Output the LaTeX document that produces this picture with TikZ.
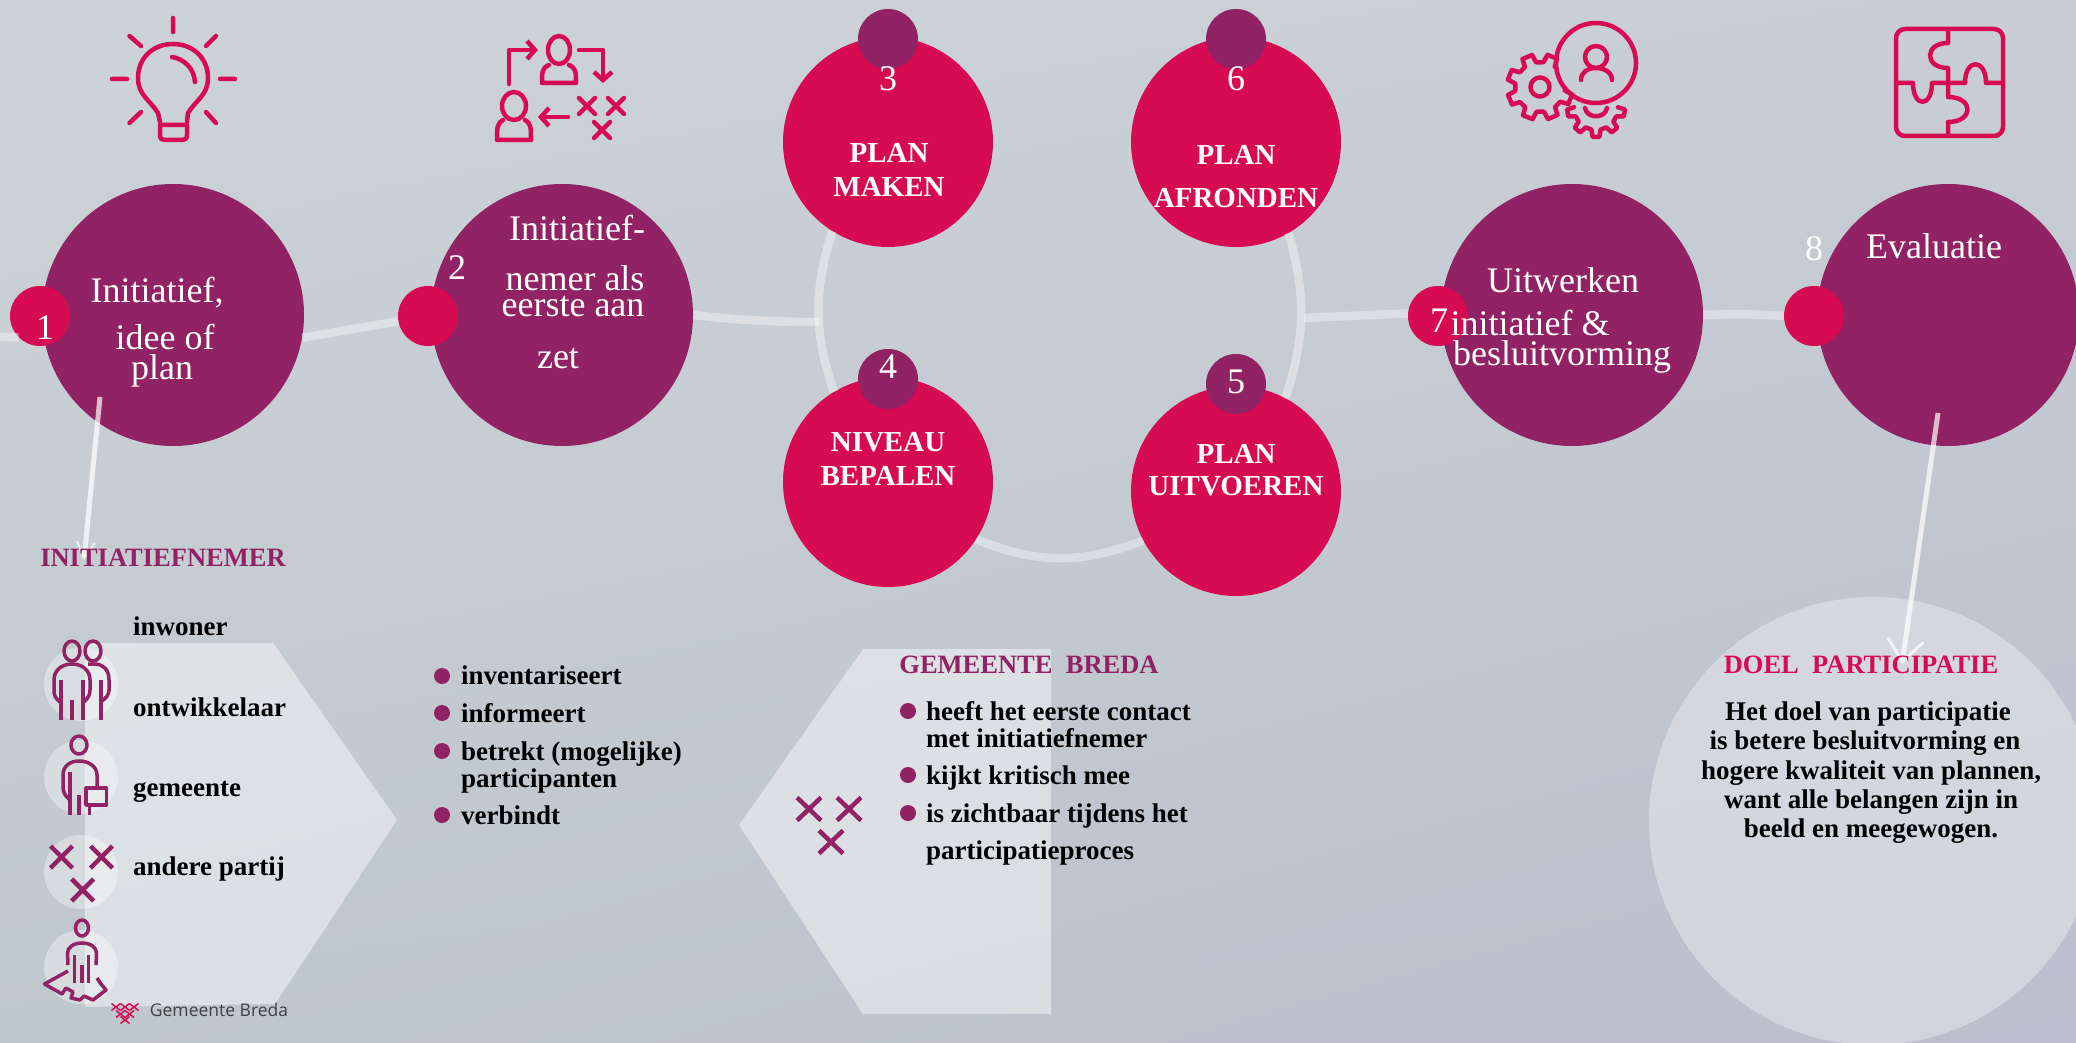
\documentclass[tikz,border=0pt]{standalone}
\usepackage{fontspec}
\setmainfont{Liberation Serif}
\newfontfamily\logofont{Open Sans}
\usetikzlibrary{arrows.meta,shadings}
\definecolor{paars}{HTML}{912263}
\definecolor{roze}{HTML}{D60B52}
\definecolor{bgA}{HTML}{CDD4D7}
\definecolor{bgB}{HTML}{C8CED4}
\definecolor{bgC}{HTML}{BFC7CE}
\definecolor{bgD}{HTML}{B9BFCC}
\begin{document}
\begin{tikzpicture}[
            x=1pt,y=-1pt,
            groot/.style={
                    circle,
                    fill=paars,
                    inner sep=0pt,
                    minimum size=262pt
                },
            fase/.style={
                    circle,
                    fill=roze,
                    inner sep=0pt,
                    minimum size=210pt
                },
            stipr/.style={
                    circle,
                    fill=roze,
                    inner sep=0pt,
                    minimum size=60pt
                },
            stipp/.style={
                    circle,
                    fill=paars,
                    inner sep=0pt,
                    minimum size=60pt
                },
            bol/.style={
                    circle,
                    fill=paars,
                    inner sep=0pt,
                    minimum size=16pt
                },
            licht/.style={
                    circle,
                    fill=white,
                    fill opacity=.35,
                    inner sep=0pt,
                    minimum size=74pt
                },
            track/.style={
                    draw=white,
                    draw opacity=.38,
                    line width=8.5pt
                },
            pijl/.style={
                    draw=white,
                    draw opacity=.7,
                    line width=5pt
                },
            wit/.style={
                    text=white,
                    inner sep=0pt,
                    text height=31pt,
                    text depth=6pt,
                    font=\fontsize{36}{38}\selectfont
                },
            kop/.style={
                    text=white,
                    inner sep=0pt,
                    text height=28pt,
                    text depth=5pt,
                    font=\fontsize{29}{30}\selectfont\bfseries
                },
            titel/.style={
                    inner sep=0pt,
                    text height=22pt,
                    text depth=4pt,
                    font=\fontsize{26.5}{28}\selectfont\bfseries
                },
            lijst/.style={
                    anchor=west,
                    inner sep=0pt,
                    text height=22pt,
                    text depth=4pt,
                    font=\fontsize{27}{28}\selectfont\bfseries
                },
            pict/.style={
                    draw=roze,
                    line width=4.5pt,
                    line cap=round,
                    line join=round
                },
            picp/.style={
                    draw=paars,
                    line width=3.5pt,
                    line join=round
                }
        ]
        \useasboundingbox (0,0) rectangle (2076,1043);
        \shade[shading=bilinear interpolation,upper left=bgA,upper right=bgB,lower left=bgC,lower right=bgD] (0,0) rectangle (2076,1043);

        \fill[white,fill opacity=.45] (85,643) -- (273,643) -- (397,820) -- (275,1004) -- (85,1007) -- cycle;
        \fill[white,fill opacity=.45] (863,649) -- (1051,649) -- (1051,1014) -- (863,1014) -- (739,825) -- cycle;
        \fill[white,fill opacity=.33] (1873,821) circle[radius=224];

        \foreach \i/\y in {1/684,2/777,3/872,4/967}
        \node[licht] (l\i) at (81,\y) {};

        \node[groot] (c1) at (173,315) {};
        \node[groot] (c2) at (562,315) {};
        \node[groot] (c7) at (1572,315) {};
        \node[groot] (c8) at (1948,315) {};
        \node[fase] (c3) at (888,142) {};
        \node[fase] (c6) at (1236,142) {};
        \node[fase] (c4) at (888,482) {};
        \node[fase] (c5) at (1236,491) {};

        \node[stipr] (d1) at (40,316) {};
        \node[stipr] (d2) at (428,316) {};
        \node[stipr] (d7) at (1438,316) {};
        \node[stipr] (d8) at (1814,316) {};
        \node[stipp] (d3) at (888,39) {};
        \node[stipp] (d6) at (1236,39) {};
        \node[stipp] (d4) at (888,379) {};
        \node[stipp] (d5) at (1236,384) {};

        \coordinate (start) at (0,337);
        \coordinate (ringw) at (819,322);
        \coordinate (ringo) at (1304,318);
        \draw[track] (start) -- (d1.225);
        \draw[track] (c1.-10) -- (d2.190);
        \draw[track] (c2.east) to[bend right=3] (ringw);
        \draw[track] (ringo) -- (d7.175);
        \draw[track] (c7.east) to[bend left=3] (d8.west);
        \draw[track] (c3.238) to[bend right=18] (c4.121);
        \draw[track] (c4.-33) to[bend right=22] (c5.208);
        \draw[track] (c6.-60) to[bend left=17] (c5.62);

        \coordinate (a1) at (100,397);
        \coordinate (a2) at (84,560);
        \coordinate (a3) at (1938,413);
        \coordinate (a4) at (1902,664);
        \draw[pijl,-{Straight Barb[length=16pt,width=18pt,line width=2pt]}] (a1) -- (a2);
        \draw[pijl,-{Straight Barb[length=22pt,width=36pt,line width=3pt]}] (a3) -- (a4);

        \node[wit] (n1) at (45,327) {1};
        \node[wit] (n2) at (457,267) {2};
        \node[wit] (n3) at (888,78) {3};
        \node[wit] (n4) at (888,366) {4};
        \node[wit] (n5) at (1236,381) {5};
        \node[wit] (n6) at (1236,78) {6};
        \node[wit] (n7) at (1439,320) {7};
        \node[wit] (n8) at (1814,248) {8};

        \node[wit] (t1a) at (157,290) {Initiatief,};
        \node[wit] (t1b) at (165,337) {idee of};
        \node[wit] (t1c) at (162,367) {plan};
        \node[wit] (t2a) at (577,228) {Initiatief-};
        \node[wit] (t2b) at (575,278) {nemer als};
        \node[wit] (t2c) at (573,304) {eerste aan};
        \node[wit] (t2d) at (558,356) {zet};
        \node[wit] (t7a) at (1563,280) {Uitwerken};
        \node[wit] (t7b) at (1530,323) {initiatief \&};
        \node[wit] (t7c) at (1562,353) {besluitvorming};
        \node[wit] (t8) at (1934,246) {Evaluatie};

        \node[kop] (t3a) at (889,151) {PLAN};
        \node[kop] (t3b) at (889,185) {MAKEN};
        \node[kop] (t6a) at (1236,153) {PLAN};
        \node[kop] (t6b) at (1236,196) {AFRONDEN};
        \node[kop] (t4a) at (888,440) {NIVEAU};
        \node[kop] (t4b) at (888,474) {BEPALEN};
        \node[kop] (t5a) at (1236,452) {PLAN};
        \node[kop] (t5b) at (1236,484) {UITVOEREN};

        \node[titel,text=paars] (k1) at (163,557) {INITIATIEFNEMER};
        \node[titel,text=paars] (k2) at (1029,664) {GEMEENTE\ \ BREDA};
        \node[titel,text=roze] (k3) at (1861,664) {DOEL\ \ PARTICIPATIE};

        \foreach \i/\y/\t in {1/626/inwoner,2/707/ontwikkelaar,3/787/gemeente,4/866/andere partij}
        \node[lijst] (s\i) at (133,\y) {\t};

        \foreach \i/\y/\t in {1/675/inventariseert,2/713/informeert,3/751/betrekt (mogelijke),4/778/participanten,5/815/verbindt}
        \node[lijst] (i\i) at (461,\y) {\t};
        \foreach \i/\y in {1/676,2/713,3/751,5/815}
        \node[bol] (p\i) at (442,\y) {};

        \foreach \i/\y/\t in {1/711/heeft het eerste contact,2/738/met initiatiefnemer,3/775/kijkt kritisch mee,4/813/is zichtbaar tijdens het,5/850/participatieproces}
        \node[lijst] (g\i) at (926,\y) {\t};
        \foreach \i/\y in {1/711,3/775,4/813}
        \node[bol] (q\i) at (908,\y) {};

        \foreach \i/\x/\y/\t in {1/1868/711/Het doel van participatie,2/1865/740/is betere besluitvorming en,3/1871/770/{hogere kwaliteit van plannen,},4/1871/799/want alle belangen zijn in,5/1871/828/beeld en meegewogen.}
        \node[lijst,anchor=center] (b\i) at (\x,\y) {\t};

        \node[inner sep=0pt,text=black!75,font=\logofont\fontsize{17.5}{19}\selectfont] (logo) at (219,1010) {Gemeente Breda};
        \foreach \x/\y in {116/1007,125/1007,134/1007,120.5/1014,129.5/1014,125/1020}
        \draw[roze,line width=1.5pt] (\x-4.5,\y-3.5) -- (\x+4.5,\y+3.5) (\x-4.5,\y+3.5) -- (\x+4.5,\y-3.5);

        \draw[pict] (173,18) -- (173,32) (112,79) -- (127,79) (220,79) -- (235,79)
        (129.5,36) -- (141,46) (216,36) -- (206,46) (129.5,123) -- (141,112) (216,123) -- (206,112);
        \draw[pict] (160,122) -- (158,113) .. controls (150,100) and (138,95) .. (138,78)
        .. controls (138,58) and (153,44) .. (173,44) .. controls (193,44) and (208,58) .. (208,78)
        .. controls (208,95) and (196,100) .. (188,113) -- (187,122);
        \draw[pict] (160,125) -- (187,125) -- (187,135) .. controls (187,139) and (185,140) .. (182,140)
        -- (165,140) .. controls (162,140) and (160,139) .. (160,135) -- cycle;
        \draw[pict] (172,57) .. controls (184,59) and (194,68) .. (195,82);

        \draw[pict] (559,50) ellipse[x radius=11,y radius=14];
        \draw[pict] (549,65) .. controls (542,68) and (542,72) .. (542,83) -- (576,83) .. controls (576,72) and (576,68) .. (569,65);
        \draw[pict] (514,106) ellipse[x radius=12,y radius=14];
        \draw[pict] (503,120) .. controls (497,123) and (497,128) .. (497,140) -- (531,140) .. controls (531,128) and (531,123) .. (525,120);
        \draw[pict,-{Straight Barb[length=8pt,width=18pt]}] (509,84) -- (509,50) -- (538,50);
        \draw[pict,-{Straight Barb[length=8pt,width=18pt]}] (579,50) -- (603,50) -- (603,83);
        \draw[pict,-{Straight Barb[length=8pt,width=18pt]}] (568,117) -- (538,117);
        \foreach \x/\y in {587/106,616/106,602/130}
        \draw[pict] (\x-8,\y-8) -- (\x+8,\y+8) (\x-8,\y+8) -- (\x+8,\y-8);

        \draw[pict] (1596,63) circle[radius=40];
        \draw[pict] (1596,57) circle[radius=11];
        \draw[pict] (1581,80) .. controls (1581,72) and (1588,68) .. (1596,68) .. controls (1604,68) and (1612,72) .. (1612,80);
        \begin{scope}[shift={(1540,87)}]
            \draw[pict] (22-14:25) \foreach \a in {22,67,112,157,202,247,292}{
                -- (\a-14:25) -- (\a-9:33) -- (\a+9:33) -- (\a+14:25)};
            \draw[pict] (0,0) circle[radius=9.5];
        \end{scope}
        \begin{scope}[shift={(1596,108)}]
            \draw[pict] (10-12:22) \foreach \a in {10,50,90,130,170}{
                -- (\a-12:22) -- (\a-7:29) -- (\a+7:29) -- (\a+12:22)};
            \draw[pict] (-11,0) .. controls (-9,11) and (9,11) .. (11,0);
        \end{scope}

        \draw[pict,rounded corners=9pt] (1896,29) rectangle (2003,136);
        \draw[pict] (1948,29) -- (1948,43) .. controls (1924,43) and (1924,68) .. (1948,68) -- (1948,97)
        .. controls (1974,97) and (1974,122) .. (1948,122) -- (1948,136);
        \draw[pict] (1896,83) -- (1913,83) .. controls (1913,108) and (1932,108) .. (1932,83) -- (1965,83)
        .. controls (1965,58) and (1986,58) .. (1986,83) -- (2003,83);

        \draw[picp] (72,651) ellipse[x radius=8,y radius=10] (93,651) ellipse[x radius=8,y radius=10];
        \draw[picp] (60,702) .. controls (55,698) and (54,695) .. (54,690) -- (54,680)
        .. controls (54,670) and (62,664) .. (72,664) .. controls (82,664) and (90,670) .. (90,680) -- (90,690)
        .. controls (90,695) and (88,698) .. (84,702);
        \draw[picp] (88,664) -- (96,664) .. controls (104,665) and (109,670) .. (109,680) -- (109,690)
        .. controls (109,695) and (106,698) .. (102,701);
        \draw[picp] (61,680) -- (61,720) (72,700) -- (72,720) (83,680) -- (83,720) (101,680) -- (101,720);

        \draw[picp] (79,745) ellipse[x radius=8,y radius=9];
        \draw[picp] (70,800) .. controls (65,796) and (63,792) .. (63,787) -- (63,775)
        .. controls (63,766) and (70,761) .. (79,761) .. controls (88,761) and (97,766) .. (97,775) -- (97,787);
        \draw[picp] (70,772) -- (70,815) (79,795) -- (79,815) (89.5,805) -- (89.5,815);
        \draw[picp] (86,788) rectangle (106.5,805);

        \foreach \x/\y in {61.5/857,101.5/857,82.6/890}
        \draw[paars,line width=4.5pt] (\x-11,\y-11) -- (\x+11,\y+11) (\x-11,\y+11) -- (\x+11,\y-11);

        \draw[picp] (82,928) ellipse[x radius=6.5,y radius=8];
        \draw[picp] (68,965) -- (67.5,953) .. controls (67.5,947) and (74,943) .. (82,943)
        .. controls (90,943) and (96.5,947) .. (96.5,953) -- (96,965);
        \draw[picp] (74.5,955) -- (74.5,983) (82,965) -- (82,983) (88.6,955) -- (88.6,983);
        \draw[picp] (68,971) -- (44.5,984) -- (62,994) -- (66,988) -- (73,992) -- (71,998) -- (80,1000) -- (84,996)
        -- (93,1000) -- (106,990) -- (101,984) -- (97,978);

        \foreach \x/\y in {809/809,849/809,831/842}
        \draw[paars,line width=4.5pt] (\x-12,\y-11.5) -- (\x+12,\y+11.5) (\x-12,\y+11.5) -- (\x+12,\y-11.5);
    \end{tikzpicture}
\end{document}
